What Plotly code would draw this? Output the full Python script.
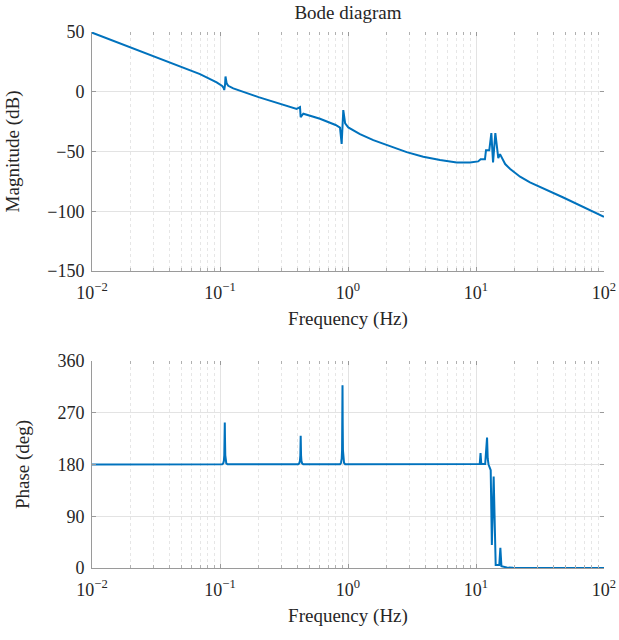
import plotly.graph_objects as go

# ---------------- data ----------------
mag_freq = [0.01, 0.0698, 0.0942, 0.1040, 0.1070, 0.1079, 0.1095, 0.1104, 0.1127, 0.116,
            0.127, 0.2, 0.397, 0.4217, 0.4268, 0.4477, 0.604, 0.70, 0.80, 0.866, 0.892, 0.919,
            0.95, 1.005, 1.24, 1.577, 2.128, 2.874, 3.87, 5.24, 7.07, 8.98, 10.4, 10.87, 11.75,
            11.97, 12.7, 13.18, 13.59, 14.16, 14.93, 15.4, 16.9, 18.5, 22.1, 26.4,
            48.1, 100.0]
mag_db = [49.5, 14.8, 7.8, 4.8, 3.0, 1.4, 6.0, 12.8, 7.0, 5.0,
          2.8, -4.5, -14.3, -12.8, -21.2, -18.4, -22.6, -25.0, -27.8, -30.0, -43.6, -15.3,
          -26.5, -29.9, -35.4, -40.5, -45.8, -50.5, -54.4, -57.2, -59.2, -59.2, -58.3, -56.4, -56.4,
          -48.9, -48.9, -34.6, -59.2, -34.6, -55.5, -52.2, -60.5, -64.7, -71.1, -75.9,
          -88.5, -104.6]

ph_freq = [0.01, 0.104, 0.106, 0.1072, 0.1080, 0.1086, 0.1090, 0.1094, 0.1100, 0.1108, 0.1120, 0.1145,
           0.408, 0.416, 0.421, 0.4243, 0.4258, 0.4270, 0.4282, 0.4297, 0.433, 0.438, 0.447,
           0.866, 0.882, 0.893, 0.899, 0.903, 0.906, 0.909, 0.913, 0.919, 0.931, 0.95,
           10.0, 10.7, 10.85, 11.0, 11.8, 12.05, 12.2, 12.35, 12.53, 13.03, 13.3, 13.74,
           14.25, 15.2, 15.5, 15.8, 17.4, 19.5, 100.0]
ph_deg = [180, 180.5, 182, 186, 196, 225, 253, 225, 196, 186, 182, 180.5,
          180.5, 182, 186, 196, 215, 230, 215, 196, 186, 182, 180.5,
          180.5, 183, 190, 205, 250, 318, 250, 205, 190, 183, 180.5,
          180, 181, 200, 181, 181, 205, 227, 190, 180, 170, 40, 159,
          5, 5, 35, 3, 1, 0.3, 0]

mag_ticks = [-150, -100, -50, 0, 50]
ph_ticks = [0, 90, 180, 270, 360]
x_tickvals = [0.01, 0.1, 1, 10, 100]
x_ticktext = ["10<sup>−2</sup>", "10<sup>−1</sup>", "10<sup>0</sup>", "10<sup>1</sup>", "10<sup>2</sup>"]

# ---------------- figure ----------------
FONT = "Liberation Serif"
LINE = "#0072BD"
TXT = "#262626"
AX = "#9a9a9a"
GRID = "#e3e3e3"
MINOR = "#e6e6e6"
fig = go.Figure()
fig.add_trace(go.Scatter(x=mag_freq, y=mag_db, mode="lines", line=dict(color=LINE, width=2),
                         xaxis="x", yaxis="y", showlegend=False))
fig.add_trace(go.Scatter(x=ph_freq, y=ph_deg, mode="lines", line=dict(color=LINE, width=2),
                         xaxis="x2", yaxis="y2", showlegend=False))
# invisible traces so that the mirrored (top/right) tick axes are drawn
fig.add_trace(go.Scatter(x=[mag_freq[0]], y=[mag_db[0]], mode="markers", opacity=0,
                         xaxis="x3", yaxis="y3", showlegend=False, hoverinfo="skip"))
fig.add_trace(go.Scatter(x=[ph_freq[0]], y=[ph_deg[0]], mode="markers", opacity=0,
                         xaxis="x4", yaxis="y4", showlegend=False, hoverinfo="skip"))

H = 536.0
top_dom = [(568 - 271) / H, 1.0]
bot_dom = [0.0, (568 - 361) / H]

def xax(anchor):
    return dict(type="log", range=[-2, 2], anchor=anchor, domain=[0, 1],
                tickvals=x_tickvals, ticktext=x_ticktext,
                ticks="inside", ticklen=4, tickcolor=AX, ticklabelstandoff=5,
                showline=True, linecolor=AX, linewidth=1,
                showgrid=True, gridcolor=GRID, gridwidth=1,
                minor=dict(dtick="D1", showgrid=True, gridcolor=MINOR, griddash="dot",
                           ticks="inside", ticklen=3, tickcolor="#b0b0b0"),
                zeroline=False, automargin=False,
                tickfont=dict(family=FONT, size=18, color=TXT),
                title=dict(text="Frequency (Hz)", font=dict(family=FONT, size=19, color=TXT),
                           standoff=10))

def xmirror(overlay, anchor):
    return dict(type="log", range=[-2, 2], overlaying=overlay, anchor=anchor, side="top",
                tickvals=x_tickvals, showticklabels=False,
                ticks="inside", ticklen=4, tickcolor=AX, showline=False, showgrid=False,
                minor=dict(dtick="D1", showgrid=False, ticks="inside", ticklen=3, tickcolor="#b0b0b0"),
                zeroline=False, automargin=False)

def yax(anchor, dom, rng, ticks, title):
    return dict(domain=dom, range=rng, anchor=anchor, tickvals=ticks,
                ticks="inside", ticklen=4, tickcolor=AX, ticklabelstandoff=3,
                showline=True, linecolor=AX, linewidth=1,
                showgrid=True, gridcolor=GRID, gridwidth=1, zeroline=False, automargin=False,
                tickfont=dict(family=FONT, size=18, color=TXT),
                title=dict(text=title, font=dict(family=FONT, size=19, color=TXT),
                           standoff=22))

def ymirror(overlay, anchor, rng, ticks):
    return dict(range=rng, overlaying=overlay, anchor=anchor, side="right", tickvals=ticks,
                showticklabels=False, ticks="inside", ticklen=4, tickcolor=AX,
                showline=False, showgrid=False, zeroline=False, automargin=False)

fig.update_layout(
    width=619, height=640,
    margin=dict(l=92, r=15, t=32, b=72, autoexpand=False),
    plot_bgcolor="white", paper_bgcolor="white",
    xaxis=xax("y"),
    yaxis=yax("x", top_dom, [-150, 50], mag_ticks, "Magnitude (dB)"),
    xaxis2=xax("y2"),
    yaxis2=yax("x2", bot_dom, [0, 360], ph_ticks, "Phase (deg)"),
    xaxis3=xmirror("x", "y"),
    yaxis3=ymirror("y", "x", [-150, 50], mag_ticks),
    xaxis4=xmirror("x2", "y2"),
    yaxis4=ymirror("y2", "x2", [0, 360], ph_ticks),
    title=dict(text="Bode diagram", x=0.5, xref="paper", y=1 - 12 / 640, yref="container",
               xanchor="center", yanchor="middle",
               font=dict(family=FONT, size=19, color=TXT)),
)

fig.write_html("out.html")
